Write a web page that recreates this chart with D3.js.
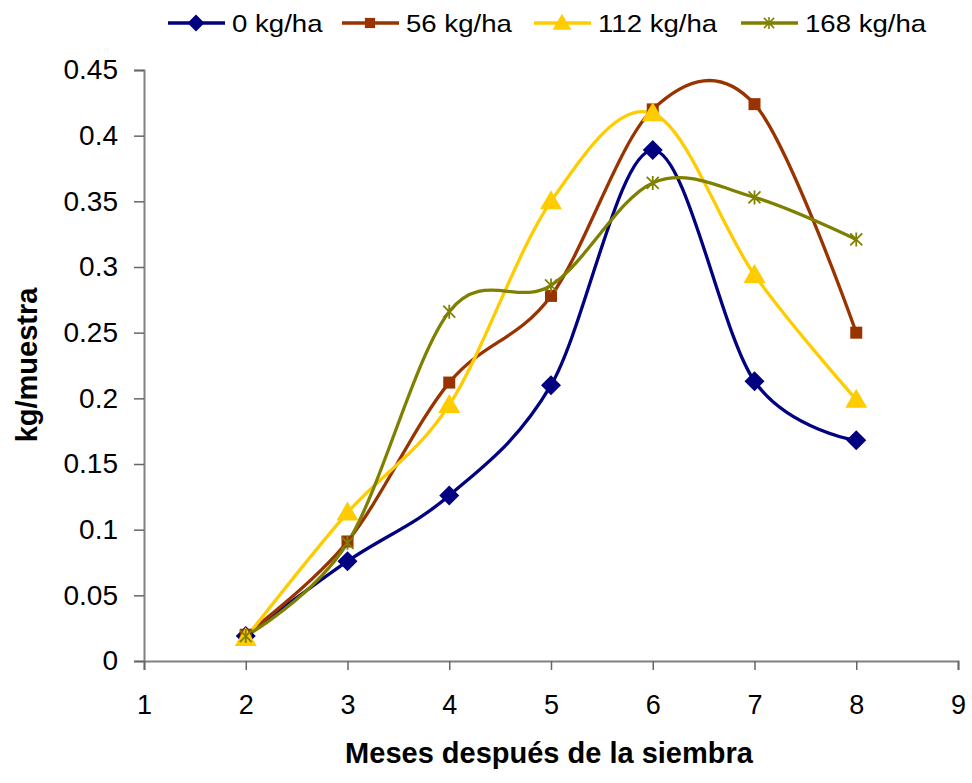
<!DOCTYPE html>
<html>
<head>
<meta charset="utf-8">
<script src="https://cdn.jsdelivr.net/npm/d3@7"></script>
<style>
body { margin: 0; background: #fff; }
text { font-family: "Liberation Sans", Arial, sans-serif; }
</style>
</head>
<body>
<svg id="viz"></svg>
<script>
var width = 972;
var height = 783;

var months = [2, 3, 4, 5, 6, 7, 8];
var seriesNames = ["0 kg/ha", "56 kg/ha", "112 kg/ha", "168 kg/ha"];
var kg0 = [0.019, 0.076, 0.126, 0.21, 0.389, 0.213, 0.168];
var kg56 = [0.02, 0.091, 0.212, 0.278, 0.42, 0.424, 0.25];
var kg112 = [0.0175, 0.113, 0.195, 0.35, 0.417, 0.294, 0.199];
var kg168 = [0.019, 0.09, 0.266, 0.286, 0.364, 0.353, 0.321];
var xTicks = [1, 2, 3, 4, 5, 6, 7, 8, 9];
var yTicks = [0, 0.05, 0.1, 0.15, 0.2, 0.25, 0.3, 0.35, 0.4, 0.45];

var colors = ["#000080", "#993300", "#FFCC00", "#808000"];
var shapes = ["diamond", "square", "triangle", "star"];
var allSeries = [kg0, kg56, kg112, kg168];

var svg = d3.select("#viz")
    .attr("width", width)
    .attr("height", height);

var x = d3.scaleLinear().domain([1, 9]).range([144, 958]);
var y = d3.scaleLinear().domain([0, 0.45]).range([661, 70]);

// y axis
var yAxis = svg.append("g")
    .attr("transform", "translate(" + x(1) + ",0)")
    .call(d3.axisLeft(y).tickValues(yTicks).tickSize(10).tickPadding(16)
        .tickFormat(function(d) { return String(+d.toFixed(2)); }));
yAxis.select(".domain").attr("stroke", "#808080").attr("stroke-width", 2);
yAxis.selectAll(".tick line").attr("stroke", "#666").attr("stroke-width", 1.5);
yAxis.selectAll("text").attr("font-size", 28).attr("fill", "#000");

// x axis
var xAxis = svg.append("g")
    .attr("transform", "translate(0," + y(0) + ")")
    .call(d3.axisBottom(x).tickValues(xTicks).tickSize(9).tickPadding(25));
xAxis.select(".domain").attr("stroke", "#808080").attr("stroke-width", 2);
xAxis.selectAll(".tick line").attr("stroke", "#666").attr("stroke-width", 1.5);
xAxis.selectAll("text").attr("font-size", 27).attr("fill", "#000");

// axis titles
svg.append("text")
    .attr("x", 549).attr("y", 763)
    .attr("text-anchor", "middle")
    .attr("font-size", 29).attr("font-weight", "bold")
    .text("Meses después de la siembra");

svg.append("text")
    .attr("transform", "translate(37,365) rotate(-90)")
    .attr("text-anchor", "middle")
    .attr("font-size", 29).attr("font-weight", "bold")
    .text("kg/muestra");

function drawMarker(g, shape, color) {
    if (shape === "diamond") {
        g.append("path").attr("d", "M0,-10L10,0L0,10L-10,0Z").attr("fill", color);
    } else if (shape === "square") {
        g.append("rect").attr("x", -6).attr("y", -6).attr("width", 12).attr("height", 12).attr("fill", color);
    } else if (shape === "triangle") {
        g.append("path").attr("d", "M0,-11L11,8L-11,8Z").attr("fill", color);
    } else {
        g.append("path").attr("d", "M-6,-6L6,6M-6,6L6,-6M0,-7L0,7")
            .attr("stroke", color).attr("stroke-width", 1.8).attr("fill", "none");
    }
}

var line = d3.line()
    .x(function(d, i) { return x(months[i]); })
    .y(function(d) { return y(d); })
    .curve(d3.curveCardinal.tension(0));

allSeries.forEach(function(vals, s) {
    svg.append("path")
        .attr("d", line(vals))
        .attr("fill", "none")
        .attr("stroke", colors[s])
        .attr("stroke-width", 3.3);
});

allSeries.forEach(function(vals, s) {
    vals.forEach(function(v, i) {
        var g = svg.append("g").attr("transform", "translate(" + x(months[i]) + "," + y(v) + ")");
        drawMarker(g, shapes[s], colors[s]);
    });
});

// legend
var legendX = [168, 342, 534, 741];
seriesNames.forEach(function(name, s) {
    var g = svg.append("g").attr("transform", "translate(" + legendX[s] + ",23)");
    g.append("line").attr("x1", 0).attr("x2", 57).attr("y1", 0).attr("y2", 0)
        .attr("stroke", colors[s]).attr("stroke-width", 3.3);
    drawMarker(g.append("g").attr("transform", "translate(28,0) scale(0.85)"), shapes[s], colors[s]);
    g.append("text")
        .attr("transform", "translate(64,9) scale(1.15,1)")
        .attr("font-size", 24).text(name);
});
</script>
</body>
</html>
